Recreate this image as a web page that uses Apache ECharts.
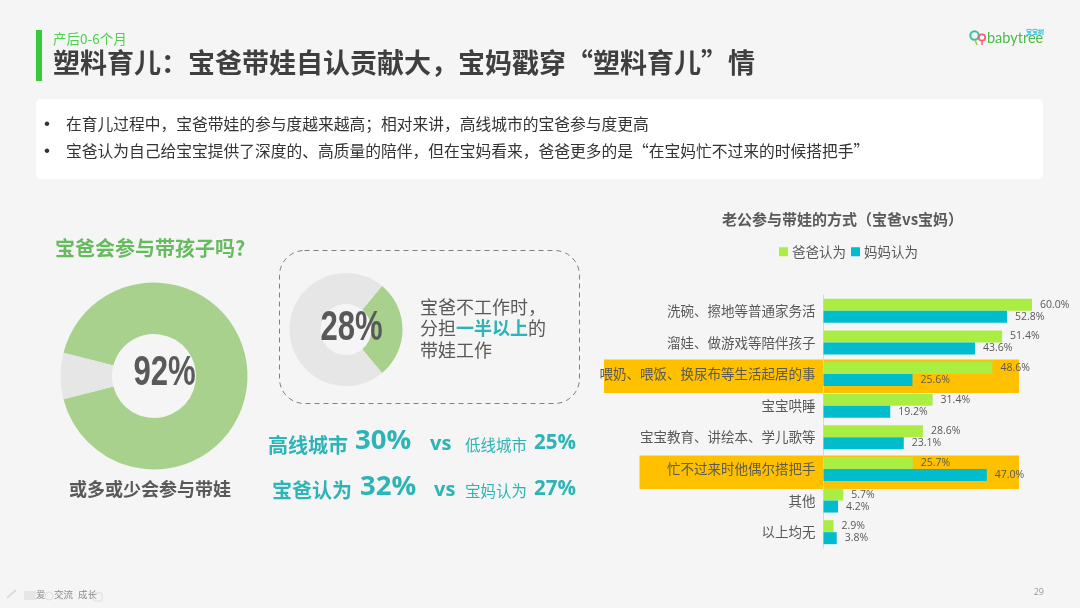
<!DOCTYPE html>
<html>
<head>
<meta charset="utf-8">
<style>html,body{margin:0;padding:0;background:#f5f5f5}#chart{width:1080px;height:608px}</style>
<script src="https://cdn.jsdelivr.net/npm/echarts@6/dist/echarts.min.js"></script>
</head>
<body>
<div id="chart"></div>
<script>
var categories = ['洗碗、擦地等普通家务活', '溜娃、做游戏等陪伴孩子', '喂奶、喂饭、换尿布等生活起居的事', '宝宝哄睡', '宝宝教育、讲绘本、学儿歌等', '忙不过来时他偶尔搭把手', '其他', '以上均无'];
var dadValues = [60.0, 51.4, 48.6, 31.4, 28.6, 25.7, 5.7, 2.9];
var momValues = [52.8, 43.6, 25.6, 19.2, 23.1, 47.0, 4.2, 3.8];
var seriesNames = ['爸爸认为', '妈妈认为'];
var joinShare = [92, 8];
var halfShare = [28, 72];

var CJK = '"Noto Sans CJK SC", sans-serif';
var NUM = '"Open Sans", sans-serif';
var GREY = '#595959';
var TEAL = '#2db4b6';

function txt(x, y, text, size, fill, weight, family, align) {
  return {
    type: 'text', z: 5, silent: true,
    style: {
      x: x, y: y, text: text, fontSize: size, fill: fill,
      fontWeight: weight || 'normal', fontFamily: family || CJK,
      textAlign: align || 'left', textVerticalAlign: 'middle'
    }
  };
}

// condensed look of the big percentages, no narrow font to rely on
function bigPercent(x, y, text) {
  return {
    type: 'text', z: 5, silent: true, x: x, y: y, scaleX: 0.74,
    style: {
      x: 0, y: 0, text: text, fontSize: 42, fill: GREY, fontWeight: 'bold',
      fontFamily: '"Liberation Sans", sans-serif', textAlign: 'center', textVerticalAlign: 'middle'
    }
  };
}

function rect(x, y, w, h, fill, r) {
  return { type: 'rect', z: -1, silent: true, shape: { x: x, y: y, width: w, height: h, r: r || 0 }, style: { fill: fill } };
}

var graphics = [
  rect(36, 30, 6, 51, '#39c93a'),
  rect(36, 99, 1007, 80, '#ffffff', 5),
  rect(604, 359.5, 415, 33.5, '#ffc000'),
  rect(639.5, 455.5, 379.5, 33.5, '#ffc000'),

  txt(53, 39, '产后0-6个月', 13.5, '#4fd14f'),
  txt(53, 62.5, '塑料育儿：宝爸带娃自认贡献大，宝妈戳穿“塑料育儿”情', 27, '#3f3f3f', 'bold'),

  txt(44, 124, '•', 17, '#333', 'normal', '"Liberation Sans", sans-serif'),
  txt(66, 124, '在育儿过程中，宝爸带娃的参与度越来越高；相对来讲，高线城市的宝爸参与度更高', 15.75, '#333'),
  txt(44, 151, '•', 17, '#333', 'normal', '"Liberation Sans", sans-serif'),
  txt(66, 151, '宝爸认为自己给宝宝提供了深度的、高质量的陪伴，但在宝妈看来，爸爸更多的是“在宝妈忙不过来的时候搭把手”', 15.75, '#333'),

  txt(55, 248, '宝爸会参与带孩子吗?', 20, '#66bb5f', 'bold'),
  txt(150, 489, '或多或少会参与带娃', 18, GREY, 'bold', CJK, 'center'),
  bigPercent(164.5, 373.5, joinShare[0] + '%'),
  bigPercent(351.5, 328, halfShare[0] + '%'),

  { type: 'rect', z: 1, silent: true, shape: { x: 279.5, y: 250.5, width: 300, height: 153, r: 25 },
    style: { fill: 'none', stroke: '#7f7f7f', lineWidth: 1, lineDash: [5, 4] } },

  txt(420, 307, '宝爸不工作时，', 18, GREY),
  txt(420, 328, '分担', 18, GREY),
  txt(456, 328, '一半以上', 18, TEAL, 'bold'),
  txt(528, 328, '的', 18, GREY),
  txt(420, 350, '带娃工作', 18, GREY),

  txt(268, 445, '高线城市', 20, TEAL, 'bold'),
  txt(355, 441, '30%', 27.5, TEAL, 'bold', NUM),
  txt(430, 444, 'vs', 20, TEAL, 'bold', NUM),
  txt(465, 445, '低线城市', 15.5, TEAL),
  txt(534, 443, '25%', 20.5, TEAL, 'bold', NUM),

  txt(272, 490, '宝爸认为', 20, TEAL, 'bold'),
  txt(360, 487, '32%', 27.5, TEAL, 'bold', NUM),
  txt(434, 490, 'vs', 20, TEAL, 'bold', NUM),
  txt(465, 491, '宝妈认为', 15.5, TEAL),
  txt(534, 489, '27%', 20.5, TEAL, 'bold', NUM),

  // logo
  { type: 'circle', z: 5, silent: true, shape: { cx: 974.5, cy: 35.5, r: 4.2 }, style: { fill: 'none', stroke: '#39c0a0', lineWidth: 2 } },
  { type: 'circle', z: 5, silent: true, shape: { cx: 982, cy: 37.5, r: 3.2 }, style: { fill: 'none', stroke: '#f0627a', lineWidth: 1.8 } },
  { type: 'line', z: 5, silent: true, shape: { x1: 975, y1: 40, x2: 977, y2: 45 }, style: { stroke: '#9ccc3c', lineWidth: 1.5 } },
  { type: 'line', z: 5, silent: true, shape: { x1: 982, y1: 41, x2: 982, y2: 45 }, style: { stroke: '#f0627a', lineWidth: 1.5 } },
  txt(987, 38.5, 'babytree', 14.5, '#4cbb45', 'normal', '"Lato", sans-serif'),
  txt(1026, 32, '宝宝树', 6, '#2bc4d8', 'bold'),

  // footer
  { type: 'line', z: 1, silent: true, shape: { x1: 7, y1: 598, x2: 16, y2: 590 }, style: { stroke: '#dcdcdc', lineWidth: 2 } },
  rect(24, 591, 12, 9, '#e6e6e6', 1),
  { type: 'circle', z: 1, silent: true, shape: { cx: 49, cy: 596, r: 4 }, style: { fill: 'none', stroke: '#e0e0e0' } },
  { type: 'circle', z: 1, silent: true, shape: { cx: 62, cy: 596, r: 4 }, style: { fill: 'none', stroke: '#e0e0e0' } },
  { type: 'rect', z: 1, silent: true, shape: { x: 93, y: 593, width: 9, height: 8, r: 1 }, style: { fill: 'none', stroke: '#dcdcdc' } },
  txt(36, 594, '爱', 9.5, '#8c8c8c'),
  txt(54, 594, '交流', 9.5, '#8c8c8c'),
  txt(78, 594, '成长', 9.5, '#8c8c8c'),
  txt(1044, 592, '29', 9, '#999', 'normal', NUM, 'right')
];

var myChart = echarts.init(document.getElementById('chart'));

var labelStyle = {
  show: true, position: 'right', distance: 8, color: GREY, fontSize: 10.5, fontFamily: NUM,
  formatter: function (p) { return p.value.toFixed(1) + '%'; }
};

function donut(center, radius, startAngle, data, names) {
  return {
    type: 'pie', center: center, radius: radius, startAngle: startAngle, clockwise: true,
    silent: true, label: { show: false }, labelLine: { show: false },
    data: data.map(function (v, i) {
      return { value: v, name: names[i], itemStyle: { color: i === 0 ? '#a8d18d' : '#e7e6e6' } };
    })
  };
}

myChart.setOption({
  animation: false,
  backgroundColor: '#f5f5f5',
  title: {
    text: '老公参与带娃的方式（宝爸vs宝妈）', left: 717, top: 207,
    textStyle: { color: GREY, fontSize: 15, fontWeight: 'bold', fontFamily: CJK }
  },
  legend: {
    data: seriesNames, left: 774, top: 240, icon: 'rect', itemWidth: 9, itemHeight: 9, itemGap: 5,
    textStyle: { color: GREY, fontSize: 13.5, fontFamily: CJK, padding: [0, 0, 0, -1] }
  },
  grid: { left: 823.5, top: 295, width: 243.25, height: 253 },
  xAxis: { type: 'value', min: 0, max: 70, show: false },
  yAxis: {
    type: 'category', inverse: true, data: categories,
    axisLine: { show: true, lineStyle: { color: '#d9d9d9', width: 1 } },
    axisTick: { show: false }, splitLine: { show: false },
    axisLabel: { color: GREY, fontSize: 13.5, fontFamily: CJK, margin: 8 }
  },
  series: [
    { name: seriesNames[0], type: 'bar', data: dadValues, barWidth: 12, barGap: 0, itemStyle: { color: '#aaee44' }, label: labelStyle },
    { name: seriesNames[1], type: 'bar', data: momValues, barWidth: 12, itemStyle: { color: '#00bccd' }, label: labelStyle },
    donut([154, 376], [42, 93.5], 165.6, joinShare, ['会参与', '不参与']),
    donut([346, 329.5], [25.5, 56.5], 50.4, halfShare, ['一半以上', '其他'])
  ],
  graphic: graphics
});

window.onresize = function () { myChart.resize(); };
</script>
</body>
</html>
